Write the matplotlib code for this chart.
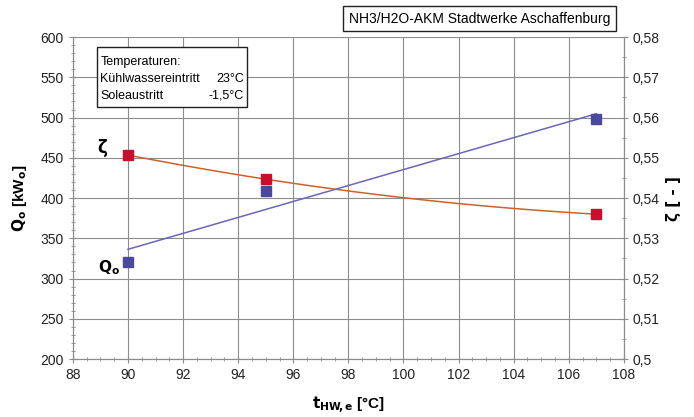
import numpy as np
import matplotlib
matplotlib.use('Agg')
import matplotlib.pyplot as plt
import matplotlib.ticker as tic
from matplotlib.patches import Rectangle

plt.rcParams['font.family'] = ['Liberation Sans', 'DejaVu Sans']

# data
t_hw = [90, 95, 107]
Q0 = [320, 409, 498]
zeta = [0.5507, 0.5447, 0.5360]

col_q = '#4b48a0'
col_z = '#c8102e'
col_ql = '#6a66b8'
col_zl = '#d0602a'
grey = '#8c8c8c'

fig = plt.figure(figsize=(6.94, 4.17), dpi=100)
ax = fig.add_axes([0.105, 0.139, 0.794, 0.772])
ax2 = ax.twinx()

# trendlines: linear for Q0, quadratic for zeta
xf = np.linspace(t_hw[0], t_hw[-1], 100)
cq = np.polyfit(t_hw, Q0, 1)
cz = np.polyfit(t_hw, zeta, 2)
ax.plot(xf, np.polyval(cq, xf), color=col_ql, lw=1.1, zorder=3)
ax.plot(t_hw, Q0, 's', color=col_q, ms=7, zorder=4)
ax2.plot(xf, np.polyval(cz, xf), color=col_zl, lw=1.1, zorder=3)
ax2.plot(t_hw, zeta, 's', color=col_z, ms=7, zorder=4)

ax.set_xlim(88, 108)
ax.set_ylim(200, 600)
ax2.set_ylim(0.5, 0.58)
ax.xaxis.set_major_locator(tic.MultipleLocator(2))
ax.xaxis.set_minor_locator(tic.MultipleLocator(0.5))
ax.yaxis.set_major_locator(tic.MultipleLocator(50))
ax.yaxis.set_minor_locator(tic.MultipleLocator(10))
ax2.yaxis.set_major_locator(tic.MultipleLocator(0.01))
ax2.yaxis.set_minor_locator(tic.MultipleLocator(0.005))
ax2.yaxis.set_major_formatter(tic.FuncFormatter(
    lambda v, p: ('%g' % round(v, 3)).replace('.', ',')))

ax.grid(True, which='major', color=grey, lw=0.8)
ax.set_axisbelow(True)
for a in (ax, ax2):
    for s in a.spines.values():
        s.set_color(grey)
    a.tick_params(which='both', color=grey, labelsize=10, labelcolor='#222222',
                  direction='inout')
    a.tick_params(which='major', length=6)
    a.tick_params(which='minor', length=3)
ax.spines['top'].set_visible(False)
ax2.spines['top'].set_visible(False)

ax.set_xlabel(r'$\mathbf{t_{HW\!,e}}$ [°C]', fontsize=11, fontweight='bold', labelpad=9)
ax.set_ylabel(r'$\mathbf{Q_o}$ [kW$_\mathbf{o}$]', fontsize=11, fontweight='bold', labelpad=8)
ax2.set_ylabel('ζ [ - ]', fontsize=11, fontweight='bold', rotation=90, labelpad=4,
               family=['DejaVu Sans'])

ax.text(89.05, 462, 'ζ', fontsize=12, fontweight='bold', family=['DejaVu Sans'],
        ha='center', va='center')
ax.text(89.3, 313, r'$\mathbf{Q_o}$', fontsize=11, ha='center', va='center')

# temperature box
ax.add_patch(Rectangle((88.87, 513), 5.45, 74.6, fc='white', ec='#222222',
                       lw=1.0, zorder=5))
rows = [('Kühlwassereintritt', '23°C'), ('Soleaustritt', '-1,5°C')]
ax.text(89.0, 569, 'Temperaturen:', fontsize=9, va='center', ha='left', zorder=6)
for i, (lab, val) in enumerate(rows):
    yy = 548 - 21 * i
    ax.text(89.0, yy, lab, fontsize=9, va='center', ha='left', zorder=6)
    ax.text(94.2, yy, val, fontsize=9, va='center', ha='right', zorder=6)

fig.text(0.691, 0.955, 'NH3/H2O-AKM Stadtwerke Aschaffenburg', fontsize=10,
         ha='center', va='center',
         bbox=dict(boxstyle='square,pad=0.4', fc='white', ec='#222222', lw=1.0))

fig.savefig('out.png', dpi=100)
